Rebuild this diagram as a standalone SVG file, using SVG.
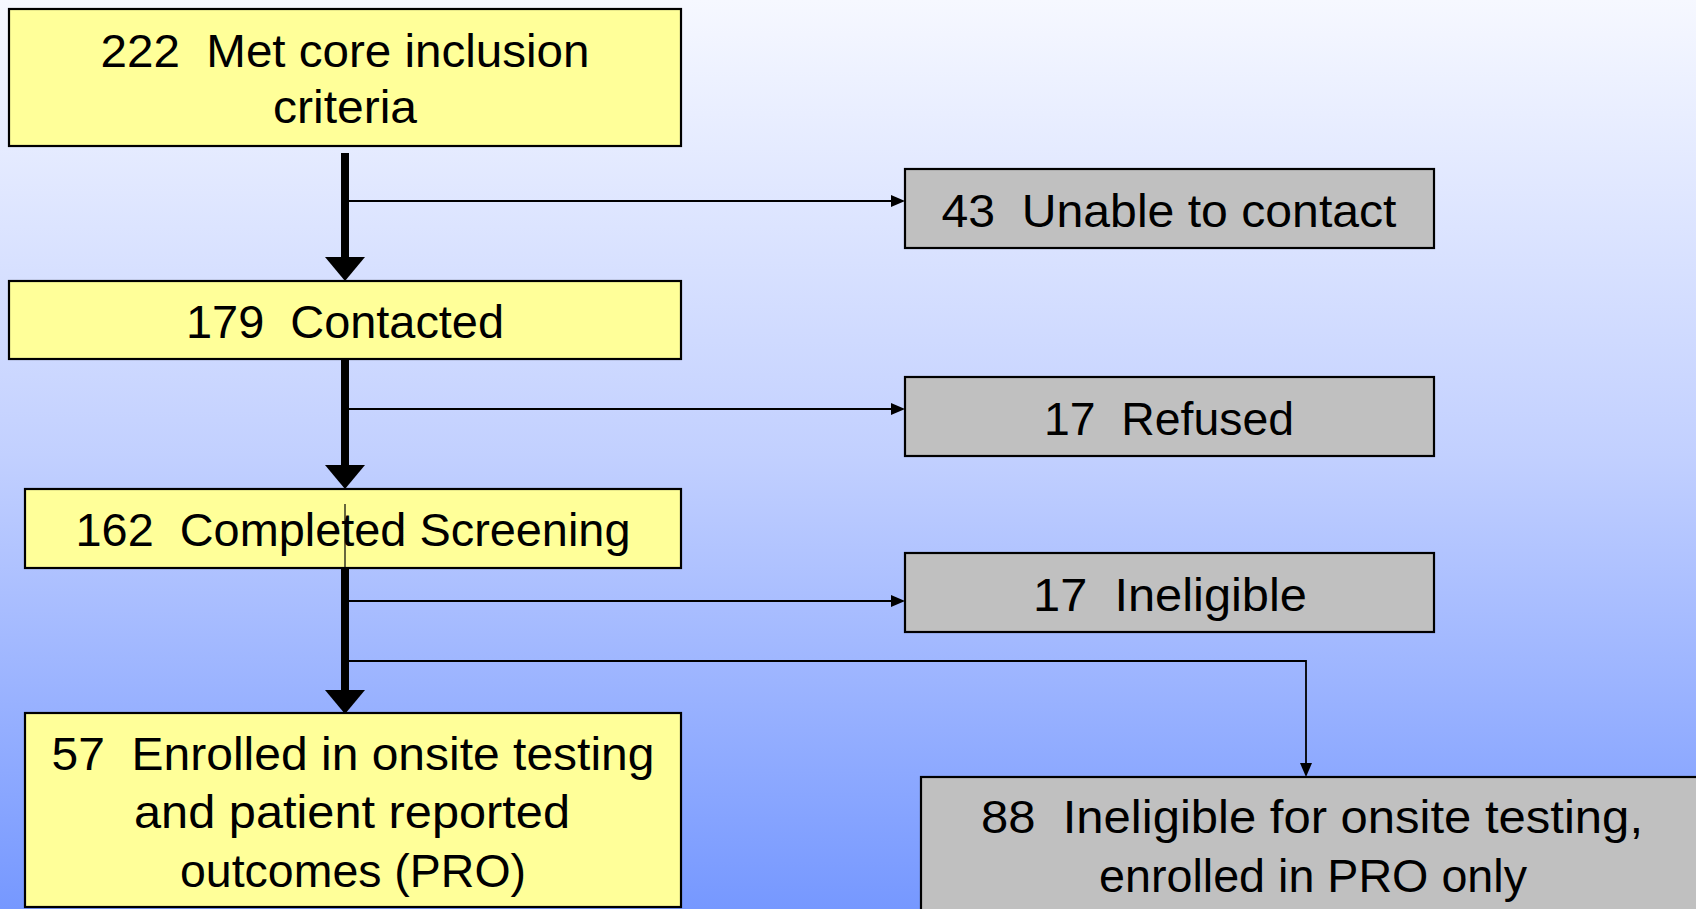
<svg xmlns="http://www.w3.org/2000/svg" width="1696" height="909" viewBox="0 0 1696 909">
  <defs>
    <linearGradient id="bg" x1="0" y1="0" x2="0" y2="1">
      <stop offset="0" stop-color="#f6f8ff"/>
      <stop offset="0.5" stop-color="#c2d0ff"/>
      <stop offset="1" stop-color="#7698ff"/>
    </linearGradient>
    <marker id="bigHead" markerUnits="userSpaceOnUse" markerWidth="24" markerHeight="40" refX="0" refY="20" orient="auto" viewBox="0 0 24 40">
      <path d="M0,0 L24,20 L0,40 Z" fill="#000"/>
    </marker>
    <marker id="smallHead" markerUnits="userSpaceOnUse" markerWidth="14" markerHeight="12" refX="0" refY="6" orient="auto" viewBox="0 0 14 12">
      <path d="M0,0 L14,6 L0,12 Z" fill="#000"/>
    </marker>
    <style>
      .yellow { fill: #ffff99; stroke: #000; stroke-width: 2.2; }
      .grey { fill: #c0c0c0; stroke: #000; stroke-width: 2.2; }
      .lbl { font-family: "Liberation Sans", Arial, sans-serif; font-size: 46px; fill: #000; text-anchor: middle; white-space: pre; }
      .thick { stroke: #000; stroke-width: 8; fill: none; }
      .thin { stroke: #000; stroke-width: 1.8; fill: none; }
      .hair { stroke: #000; stroke-width: 1.2; fill: none; }
    </style>
  </defs>

  <rect x="0" y="0" width="1696" height="909" fill="url(#bg)"/>

  <g id="n222">
    <rect class="yellow" x="9" y="9" width="672" height="137"/>
    <text class="lbl" x="345" y="67" textLength="489" lengthAdjust="spacingAndGlyphs">222  Met core inclusion</text>
    <text class="lbl" x="345" y="123" textLength="144" lengthAdjust="spacingAndGlyphs">criteria</text>
  </g>

  <g id="n179">
    <rect class="yellow" x="9" y="281" width="672" height="78"/>
    <text class="lbl" x="345" y="338" textLength="318" lengthAdjust="spacingAndGlyphs">179  Contacted</text>
  </g>

  <g id="n162">
    <rect class="yellow" x="25" y="489" width="656" height="79"/>
    <text class="lbl" x="353" y="546" textLength="555" lengthAdjust="spacingAndGlyphs">162  Completed Screening</text>
  </g>

  <g id="n57">
    <rect class="yellow" x="25" y="713" width="656" height="194"/>
    <text class="lbl" x="353" y="770" textLength="603" lengthAdjust="spacingAndGlyphs">57  Enrolled in onsite testing</text>
    <text class="lbl" x="352" y="828" textLength="436" lengthAdjust="spacingAndGlyphs">and patient reported</text>
    <text class="lbl" x="353" y="887" textLength="346" lengthAdjust="spacingAndGlyphs">outcomes (PRO)</text>
  </g>

  <g id="n43">
    <rect class="grey" x="905" y="169" width="529" height="79"/>
    <text class="lbl" x="1169" y="227" textLength="455" lengthAdjust="spacingAndGlyphs">43  Unable to contact</text>
  </g>

  <g id="n17r">
    <rect class="grey" x="905" y="377" width="529" height="79"/>
    <text class="lbl" x="1169" y="435" textLength="250" lengthAdjust="spacingAndGlyphs">17  Refused</text>
  </g>

  <g id="n17i">
    <rect class="grey" x="905" y="553" width="529" height="79"/>
    <text class="lbl" x="1170" y="611" textLength="274" lengthAdjust="spacingAndGlyphs">17  Ineligible</text>
  </g>

  <g id="n88">
    <rect class="grey" x="921" y="777" width="790" height="140"/>
    <text class="lbl" x="1312" y="833" textLength="662" lengthAdjust="spacingAndGlyphs">88  Ineligible for onsite testing,</text>
    <text class="lbl" x="1313" y="892" textLength="428" lengthAdjust="spacingAndGlyphs">enrolled in PRO only</text>
  </g>

  <g id="connectors">
    <line class="thick" x1="345" y1="153" x2="345" y2="257" marker-end="url(#bigHead)"/>
    <line class="thick" x1="345" y1="359" x2="345" y2="465" marker-end="url(#bigHead)"/>
    <line class="thick" x1="345" y1="569" x2="345" y2="690" marker-end="url(#bigHead)"/>
    <line class="hair" x1="345" y1="504" x2="345" y2="569"/>
    <line class="thin" x1="349" y1="201" x2="891" y2="201" marker-end="url(#smallHead)"/>
    <line class="thin" x1="349" y1="409" x2="891" y2="409" marker-end="url(#smallHead)"/>
    <line class="thin" x1="349" y1="601" x2="891" y2="601" marker-end="url(#smallHead)"/>
    <polyline class="thin" points="349,661 1306,661 1306,763" marker-end="url(#smallHead)"/>
  </g>
</svg>
